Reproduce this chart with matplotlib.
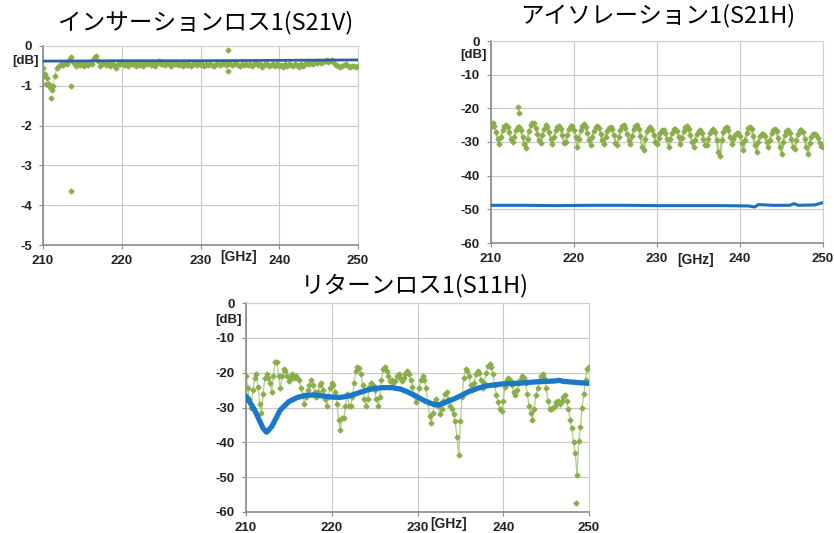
import numpy as np
import matplotlib.pyplot as plt

plt.rcParams['font.family'] = ['Liberation Sans', 'DejaVu Sans']

# ---- insertion loss (S21V) ----
il_meas = [-0.55, -0.7, -0.8, -0.95, -1.05, -1.0, -0.75, -0.55, -0.5, -0.45,
           -0.48, -0.42, -0.45, -0.35, -0.28, -0.4, -0.45, -0.5, -0.42, -0.48,
           -0.45, -0.5, -0.42, -0.47, -0.4, -0.45, -0.3, -0.25, -0.38, -0.5,
           -0.45, -0.42, -0.48, -0.45, -0.5, -0.43, -0.47, -0.55, -0.44, -0.46,
           -0.42, -0.48, -0.44, -0.5, -0.4, -0.46, -0.45, -0.5, -0.42, -0.47,
           -0.44, -0.49, -0.43, -0.46, -0.4, -0.47, -0.45, -0.5, -0.42, -0.38,
           -0.46, -0.44, -0.48, -0.43, -0.45, -0.5, -0.42, -0.46, -0.44, -0.48,
           -0.45, -0.5, -0.43, -0.47, -0.45, -0.49, -0.44, -0.46, -0.48, -0.43,
           -0.47, -0.45, -0.5, -0.44, -0.48, -0.45, -0.47, -0.5, -0.44, -0.46,
           -0.48, -0.45, -0.43, -0.47, -0.46, -0.44, -0.48, -0.45, -0.42, -0.47,
           -0.5, -0.45, -0.47, -0.44, -0.48, -0.45, -0.5, -0.46, -0.43, -0.47,
           -0.45, -0.52, -0.48, -0.46, -0.44, -0.5, -0.47, -0.45, -0.49, -0.46,
           -0.5, -0.47, -0.52, -0.46, -0.49, -0.45, -0.48, -0.5, -0.46, -0.48,
           -0.52, -0.46, -0.49, -0.44, -0.42, -0.46, -0.43, -0.45, -0.4, -0.42,
           -0.38, -0.42, -0.4, -0.38, -0.36, -0.4, -0.38, -0.35, -0.42, -0.48,
           -0.5, -0.52, -0.5, -0.48, -0.46, -0.5, -0.52, -0.49, -0.5, -0.52,
           -0.5]
il_extra_f = [210.1, 210.4, 210.7, 211.0, 211.2, 213.5, 213.5, 233.5, 233.5]
il_extra_v = [-0.75, -0.95, -1.0, -1.3, -1.1, -1.0, -3.65, -0.1, -0.62]
il_sim_f = [210, 220, 230, 240, 250]
il_sim = [-0.38, -0.37, -0.37, -0.36, -0.35]

# ---- isolation (S21H) ----
iso_meas = [-25.5, -24.5, -25.3, -27, -29, -30.5, -28.5, -26.5, -25.3, -25,
            -25.5, -27, -29, -30, -28.5, -26.5, -25.5, -25.5, -26.5, -28.5,
            -30.5, -31.8, -29, -26.8, -25, -24.3, -24.5, -25.8, -27.5, -29.5,
            -30.3, -28, -26, -25, -25.5, -27, -29, -30.5, -28.5, -26.5,
            -25.4, -25.2, -26, -28, -30.2, -30, -28, -26, -25.1, -25.2,
            -26.5, -28.5, -31.5, -29, -26.5, -25.2, -24.8, -25.5, -27.2, -29.3,
            -30.8, -28.5, -26.6, -25.5, -25.2, -25.8, -27.5, -29.5, -30.5, -28.5,
            -26.8, -25.7, -25.5, -26.2, -28, -30.2, -31, -28.5, -26.3, -25.2,
            -25, -25.8, -27.5, -29.5, -30.5, -28.3, -26.2, -25.1, -25, -26,
            -28.2, -31.5, -32.5, -29, -26.8, -25.7, -25.5, -26.3, -28, -30,
            -30.5, -28.8, -27.2, -26.5, -26.5, -27.3, -29.2, -31.5, -29.2, -27.3,
            -26.2, -26, -26.8, -28.5, -30.5, -28.8, -26.8, -25.6, -25.3, -26,
            -27.8, -30, -31.5, -29.3, -27.5, -26.7, -26.5, -27.2, -29, -30.8,
            -31, -29, -27.2, -26.4, -26.2, -27, -29.5, -33, -34.3, -29.5,
            -27, -25.8, -25.5, -26.3, -28.5, -30.5, -29.2, -28, -27.4, -27.3,
            -28.2, -30.2, -32.5, -29.5, -27.2, -25.8, -25.5, -26.2, -28.3, -31,
            -33, -30, -28.3, -27.6, -27.5, -28.3, -30, -31.5, -29.3, -27.3,
            -26.4, -26.2, -26.8, -28.8, -31.5, -33.5, -30, -27.8, -26.7, -26.5,
            -27.2, -29.2, -31.5, -32, -29.5, -27.5, -26.5, -26.3, -27, -29,
            -31.5, -33.5, -30.2, -28.5, -27.7, -27.5, -27.8, -28.8, -30.2, -31.2,
            -31.5]
iso_extra_f = [213.3, 213.4]
iso_extra_v = [-19.5, -21.5]
iso_sim_f = [210, 214, 218, 222, 226, 230, 234, 238, 241.0, 241.8, 242.2,
             244, 246, 246.5, 247, 249, 250]
iso_sim = [-48.8, -48.8, -48.9, -48.8, -48.8, -48.9, -48.9, -48.9, -49.0,
           -49.3, -48.6, -48.8, -48.8, -48.3, -48.8, -48.7, -48.0]

# ---- return loss (S11H) ----
rl_meas = [-21, -24.5, -27.5, -30, -25, -21.5, -20.5, -24, -29, -31.5,
           -26, -21.5, -20.3, -21.5, -23, -25.5, -21, -17, -16.8, -21,
           -24.5, -21, -19, -19.5, -21, -22.5, -21.5, -20.5, -21.5, -21,
           -21.5, -22, -24.5, -26.5, -29, -27, -25, -23.5, -22, -23.5,
           -25.5, -27, -25.5, -23.5, -23, -25, -27.5, -29.5, -27, -24.5,
           -23, -23.5, -25.5, -29, -33.5, -36.5, -33, -33, -29.5, -26,
           -29.5, -29.5, -27, -23, -19.5, -18.3, -18.8, -20.5, -23.5, -27.5,
           -29.5, -27.5, -24, -23, -23.5, -25, -27.5, -29.5, -27, -22,
           -19, -18.5, -19.5, -21, -22.5, -22, -23, -22.5, -21, -20.5,
           -21.5, -22.5, -21.5, -20.5, -19.5, -20.5, -22, -24, -26.5, -28.5,
           -27, -24.5, -22, -21, -22, -24.5, -28.5, -32.5, -34.5, -31.5,
           -28.5, -27.5, -29.5, -32, -30.5, -28, -26, -25.5, -27.5, -29.5,
           -30.5, -32, -34, -38.5, -43.5, -34, -27, -21.5, -19, -19.5,
           -21, -23.5, -25, -23, -20.5, -19.5, -20, -22, -24.5, -23,
           -20, -18.2, -17.5, -18.5, -20.5, -23.5, -26.5, -28.5, -30.5, -31,
           -28, -24, -22, -21.5, -22, -23.5, -25.5, -26.5, -25, -23,
           -22, -21, -21.5, -23, -26, -29.5, -31.5, -33.5, -30.5, -26.5,
           -24.5, -22.5, -21, -20.5, -21.5, -24.5, -28, -30.5, -30.5, -30,
           -29.5, -28.5, -28, -29, -28, -27, -26.5, -28, -30.5, -33.5,
           -36, -40, -43, -49.5, -39.5, -35.5, -30, -26, -22, -19,
           -18.5]
rl_extra_f = [248.5]
rl_extra_v = [-57.5]
rl_sim_f = [210, 211, 212, 212.4, 213, 214, 215, 216, 217, 218, 219, 220, 221,
            222, 223, 224, 225, 226, 227, 228, 229, 230, 231, 232, 232.5, 233,
            234, 235, 236, 237, 238, 239, 240, 241, 242, 243, 244, 245, 246,
            246.5, 247, 248, 249, 250]
rl_sim = [-26.7, -30.7, -36, -37.1, -35.5, -30.7, -28.3, -27.1, -26.5, -26.4,
          -26.7, -27.0, -27.1, -26.7, -25.9, -25.1, -24.5, -24.3, -24.3, -24.7,
          -25.7, -27, -28.3, -29.2, -29.2, -28.8, -27.8, -26.7, -25.4, -24.5,
          -23.8, -23.5, -23.2, -23.1, -23, -22.8, -22.6, -22.5, -22.4, -22.2,
          -22.5, -22.7, -22.9, -23.1]

x_ticks = [210, 220, 230, 240, 250]
green = '#8aae4a'
green_line = '#b3cd85'

W, H = 834, 533
fig = plt.figure(figsize=(W / 100, H / 100), dpi=100)


def px_axes(left, top, right, bottom):
    return fig.add_axes([left / W, 1 - bottom / H, (right - left) / W, (bottom - top) / H])


def style(ax, ymin, ystep, dby, gx, gy):
    ax.set_xlim(210, 250)
    ax.set_ylim(ymin, 0)
    ax.set_xticks(x_ticks)
    ax.set_yticks(np.arange(ymin, 0.001, ystep))
    ax.set_yticklabels([f'{v:g}' for v in np.arange(ymin, 0.001, ystep)])
    ax.grid(color='#c8c8c8', lw=0.8)
    ax.set_axisbelow(True)
    for s in ['top', 'right']:
        ax.spines[s].set_color('#cfcfcf')
    for s in ['left', 'bottom']:
        ax.spines[s].set_color('#8a8a8a')
        ax.spines[s].set_linewidth(1.2)
    ax.tick_params(length=3, color='#8a8a8a', labelsize=9.5)
    ax.tick_params(axis='y', pad=5)
    ax.tick_params(axis='x', pad=4)
    for lab in ax.get_xticklabels() + ax.get_yticklabels():
        lab.set_fontweight('bold')
        lab.set_color('#222222')
    ax.text(-0.012, dby, '[dB]', transform=ax.get_yaxis_transform(), ha='right',
            va='center', fontsize=9.5, fontweight='bold', color='#222222')
    ax.text(gx, gy, '[GHz]', transform=ax.get_xaxis_transform(), ha='center',
            va='top', fontsize=10, fontweight='bold', color='#222222')


def draw_meas(ax, vals, ef, ev, lw=0.9):
    f = np.linspace(210, 250, len(vals))
    ax.plot(f, vals, color=green_line, lw=lw, zorder=2)
    ax.plot(f, vals, 'D', color=green, ms=2.5, mec=green, zorder=3)
    ax.plot(ef, ev, 'D', color=green, ms=2.5, zorder=3)


# top-left
ax1 = px_axes(43, 46, 358, 245)
draw_meas(ax1, il_meas, il_extra_f, il_extra_v, lw=0.6)
ax1.plot(il_sim_f, il_sim, color='#2f5ea8', lw=2, zorder=4)
style(ax1, -5, 1, -0.38, 234.8, -0.025)

# top-right
ax2 = px_axes(491, 41, 823, 243)
draw_meas(ax2, iso_meas, iso_extra_f, iso_extra_v, lw=1.8)
ax2.plot(iso_sim_f, iso_sim, color='#1f6fbf', lw=2.2, zorder=4)
style(ax2, -60, 10, -4.2, 234.6, -0.05)

# bottom
ax3 = px_axes(246, 303, 589, 512)
draw_meas(ax3, rl_meas, rl_extra_f, rl_extra_v, lw=0.9)
ax3.plot(rl_sim_f, rl_sim, color='#1a78c8', lw=3.8, zorder=4, solid_capstyle='round')
style(ax3, -60, 10, -4.9, 233.6, -0.022)

jp = ['Noto Sans CJK JP', 'DejaVu Sans']
fig.text(206 / W, 1 - 23 / H, 'インサーションロス1(S21V)', family=jp, fontsize=17,
         ha='center', va='center')
fig.text(658 / W, 1 - 16 / H, 'アイソレーション1(S21H)', family=jp, fontsize=17,
         ha='center', va='center')
fig.text(415 / W, 1 - 286 / H, 'リターンロス1(S11H)', family=jp, fontsize=17,
         ha='center', va='center')

fig.savefig('out.png', dpi=100)
